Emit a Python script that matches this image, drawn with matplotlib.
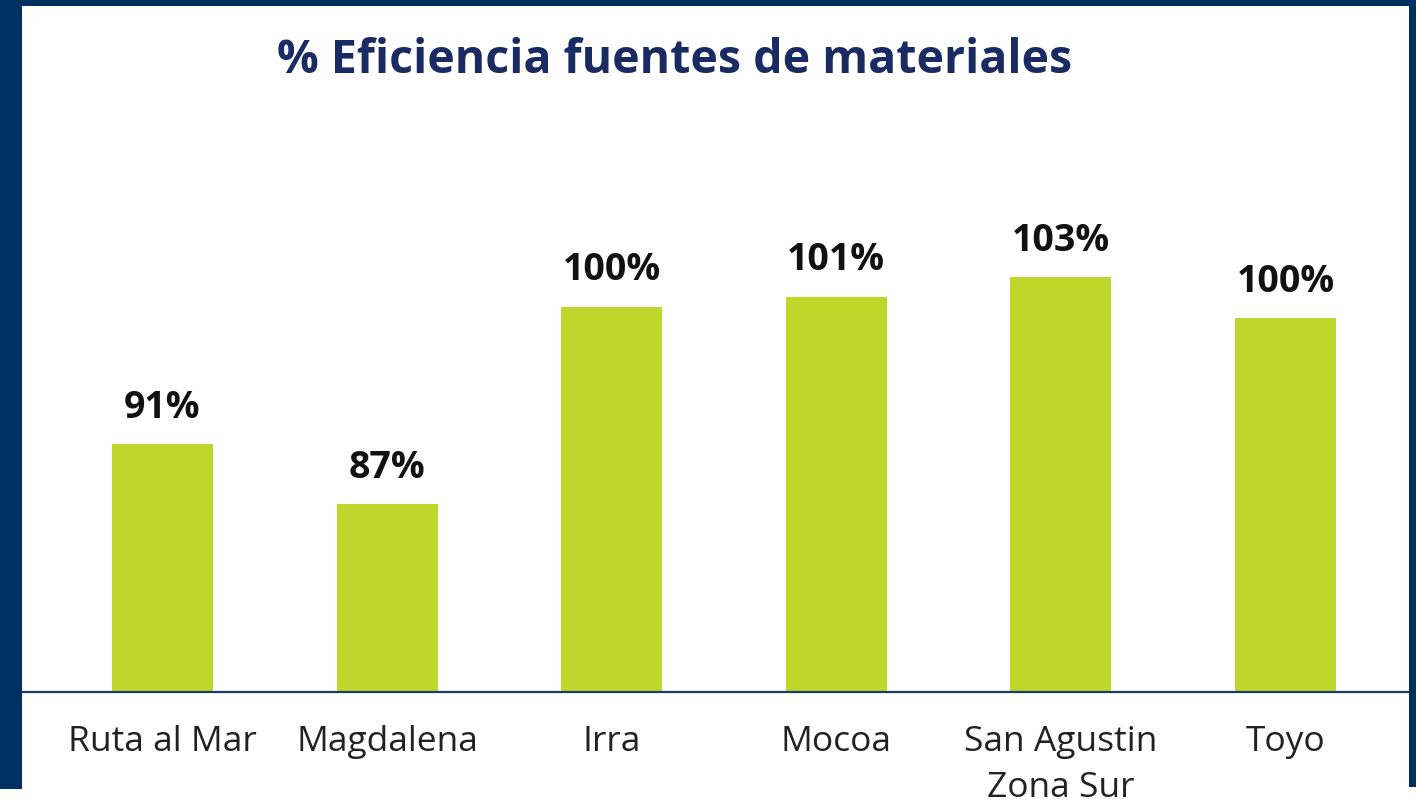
import matplotlib.pyplot as plt
from matplotlib.patches import Rectangle

sitios = ["Ruta al Mar", "Magdalena", "Irra", "Mocoa", "San Agustin\nZona Sur", "Toyo"]
eficiencia = [91.2, 87.0, 100.9, 101.6, 103.0, 100.1]
etiquetas = ["91%", "87%", "100%", "101%", "103%", "100%"]

W, H = 1416, 809
navy = "#00305f"
verde = "#bfd62a"

plt.rcParams['font.family'] = ['Open Sans', 'DejaVu Sans']

fig = plt.figure(figsize=(W / 100, H / 100), dpi=100)
fig.patch.set_facecolor("white")

# marco azul (arriba, izquierda, derecha)
fig.add_artist(Rectangle((0, 1 - 6 / H), 1, 6 / H, transform=fig.transFigure,
                         color=navy, lw=0))
fig.add_artist(Rectangle((0, 1 - 789 / H), 22 / W, 789 / H, transform=fig.transFigure,
                         color=navy, lw=0))
fig.add_artist(Rectangle((1409 / W, 1 - 787 / H), 7 / W, 787 / H, transform=fig.transFigure,
                         color=navy, lw=0))

ax = fig.add_axes([22 / W, 1 - 692 / H, (1409 - 22) / W, (692 - 120) / H])
x = list(range(len(sitios)))
ax.bar(x, eficiencia, width=0.45, color=verde)

for xi, v, t in zip(x, eficiencia, etiquetas):
    ax.annotate(t, (xi, v), xytext=(0, 19), textcoords="offset points",
                ha="center", va="baseline", fontsize=27, fontweight="bold", color="#111111")

ax.set_xlim(-0.6255, 5.55)
ax.set_ylim(73.75, 114.06)
ax.set_xticks(x)
ax.set_xticklabels(sitios, fontsize=25.5, color="#222222", linespacing=1.45)
ax.tick_params(axis="x", length=0, pad=24)
ax.set_yticks([])
for s in ["top", "left", "right"]:
    ax.spines[s].set_visible(False)
ax.spines["bottom"].set_color("#1c3a66")
ax.spines["bottom"].set_linewidth(1.6)
ax.set_facecolor("none")

fig.text(675 / W, 1 - 73 / H, "% Eficiencia fuentes de materiales", ha="center",
         va="baseline", fontsize=33.5, fontweight="bold", color="#1a2a62")

fig.savefig("out.png", dpi=100)
